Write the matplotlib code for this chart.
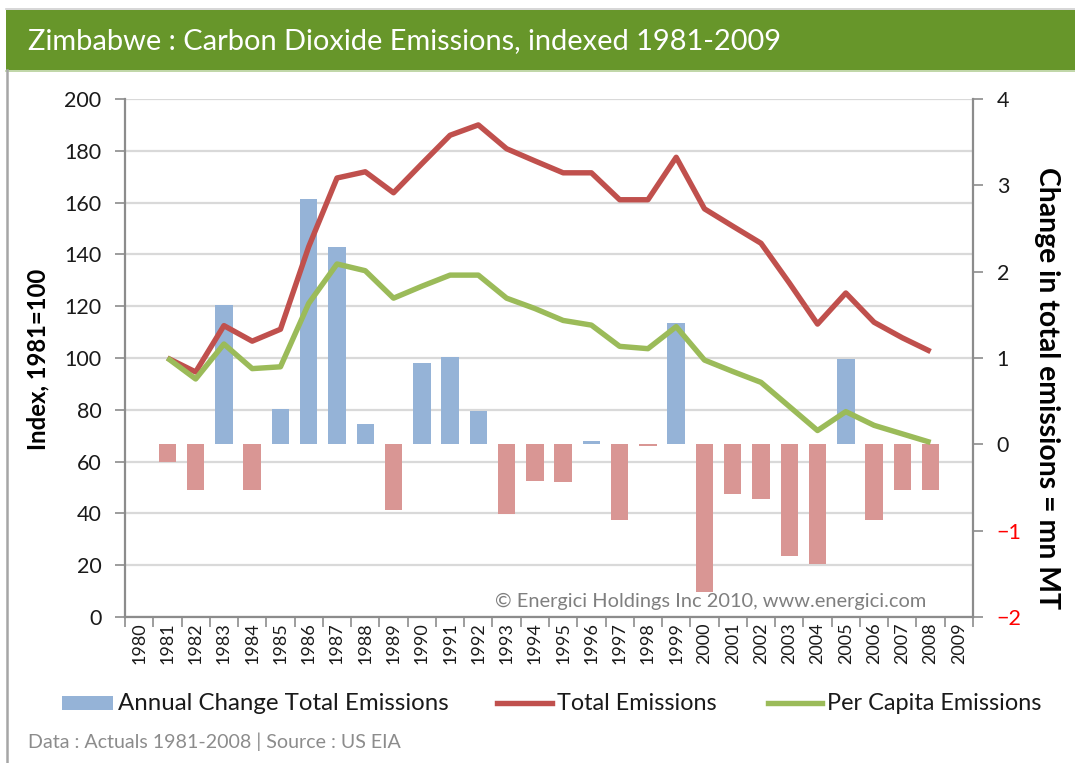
import numpy as np
import matplotlib
matplotlib.use("Agg")
import matplotlib.pyplot as plt
from matplotlib.patches import Rectangle
from matplotlib.lines import Line2D

plt.rcParams['font.family'] = ['Lato', 'DejaVu Sans']

# ---------------- data ----------------
years = [str(y) for y in range(1980, 2010)]
total_emissions = [np.nan, 100, 94.6, 112.5, 106.5, 111.1, 143, 169.5, 171.9, 163.8,
                   175, 186, 190, 180.8, 176.1, 171.5, 171.5, 161.1, 161.1, 177.5,
                   157.6, 150.9, 144.3, 129, 113.1, 125.1, 113.8, 107.8, 102.5, np.nan]
per_capita = [np.nan, 100, 91.9, 105.4, 95.9, 96.6, 121.1, 136.3, 133.7, 123.1,
              127.7, 132, 132, 123.1, 119.1, 114.5, 112.7, 104.5, 103.6, 112.1,
              99.2, 94.8, 90.6, 81.3, 72, 79.3, 74, 70.7, 67.4, np.nan]
annual_change = [np.nan, -0.20, -0.53, 1.61, -0.53, 0.41, 2.84, 2.29, 0.23, -0.76,
                 0.94, 1.01, 0.39, -0.81, -0.42, -0.44, 0.04, -0.88, -0.02, 1.40,
                 -1.71, -0.58, -0.63, -1.29, -1.39, 0.99, -0.88, -0.53, -0.53, np.nan]
left_ticks = list(range(0, 201, 20))
right_ticks = [-2, -1, 0, 1, 2, 3, 4]

title = "Zimbabwe : Carbon Dioxide Emissions, indexed 1981-2009"
left_label = "Index, 1981=100"
right_label = "Change in total emissions = mn MT"
legend_labels = ["Annual Change Total Emissions", "Total Emissions", "Per Capita Emissions"]
footer = "Data : Actuals 1981-2008 | Source : US EIA"
watermark = "\u00a9 Energici Holdings Inc 2010, www.energici.com"

# ---------------- style ----------------
W, H = 1075, 763
BLUE = '#95B3D7'
PINK = '#D99694'
RED = '#C0504D'
GREEN = '#9BBB59'
GRID = '#D9D9D9'
AXC = '#8C8C8C'
TXT = '#1A1A1A'
BANNER = '#67962A'

fig = plt.figure(figsize=(W / 100, H / 100), dpi=100)
fig.patch.set_facecolor('white')

def fx(px):
    return px / W

def fy(py):
    return 1 - py / H

# banner and border
fig.add_artist(Rectangle((fx(6), fy(70)), 1 - fx(6), 60 / H, transform=fig.transFigure,
                         facecolor=BANNER, edgecolor='none', zorder=0))
fig.add_artist(Line2D([fx(6), 1], [fy(9), fy(9)], transform=fig.transFigure, color='#D0D0D0', lw=1.2))
fig.add_artist(Line2D([fx(6), 1], [fy(70.5), fy(70.5)], transform=fig.transFigure, color='#B5CF98', lw=1.2))
fig.add_artist(Line2D([fx(7), fx(7)], [fy(70), 0], transform=fig.transFigure, color='#A6A6A6', lw=1.8))

rect = [fx(125), fy(617), fx(973) - fx(125), (617 - 99) / H]
x = np.arange(len(years))

# base axes: left scale, grid
ax = fig.add_axes(rect)
ax.set_xlim(-0.5, len(years) - 0.5)
ax.set_ylim(0, 200)
ax.set_yticks(left_ticks)
ax.yaxis.grid(True, color=GRID, lw=1.6)
ax.set_axisbelow(True)
ax.set_xticks(np.arange(-0.5, len(years), 1))
ax.set_xticklabels([])
ax.set_xticks(x, minor=True)
ax.set_xticklabels(years, minor=True, rotation=90, fontsize=13, color=TXT)
ax.tick_params(axis='x', which='major', direction='out', length=7, width=1.2, color=AXC)
ax.tick_params(axis='x', which='minor', length=0, pad=4)
ax.tick_params(axis='y', direction='out', length=7, width=1.2, color=AXC, labelsize=15.5,
               labelcolor=TXT, pad=10)
for s in ['top', 'right']:
    ax.spines[s].set_visible(False)
for s in ['left', 'bottom']:
    ax.spines[s].set_color(AXC)
    ax.spines[s].set_linewidth(1.6)

# bars on right scale
axb = ax.twinx()
axb.set_ylim(-2, 4)
axb.set_yticks(right_ticks)
vals = np.array(annual_change, dtype=float)
cols = [BLUE if (not np.isnan(v) and v >= 0) else PINK for v in vals]
axb.bar(x, vals, width=0.62, color=cols, edgecolor='none', zorder=2)
axb.tick_params(axis='y', direction='out', length=7, width=1.2, color=AXC, labelsize=15.5,
                labelcolor=TXT, pad=10)
for lab, v in zip(axb.get_yticklabels(), right_ticks):
    if v < 0:
        lab.set_color('#FF0000')
for s in ['top', 'left', 'bottom']:
    axb.spines[s].set_visible(False)
axb.spines['right'].set_color(AXC)
axb.spines['right'].set_linewidth(1.6)
axb.patch.set_visible(False)

# lines on left scale
axl = ax.twinx()
axl.set_ylim(0, 200)
axl.set_yticks([])
for s in axl.spines.values():
    s.set_visible(False)
axl.patch.set_visible(False)
axl.plot(x, total_emissions, color=RED, lw=3.9, solid_joinstyle='round', solid_capstyle='butt', zorder=3)
axl.plot(x, per_capita, color=GREEN, lw=3.9, solid_joinstyle='round', solid_capstyle='butt', zorder=3)

# texts
t_title = fig.text(fx(28), fy(41), title, color='white', fontsize=18, va='center', ha='left')
t_ll = fig.text(fx(38), fy(359), left_label, rotation=90, fontsize=14, fontweight='bold',
                va='center', ha='center', color='black')
t_rl = fig.text(fx(1047), fy(388), right_label, rotation=270, fontsize=14, fontweight='bold',
                va='center', ha='center', color='black')
t_wm = fig.text(fx(495), fy(601), watermark, fontsize=12, color='#7F7F7F',
                va='center', ha='left', zorder=5)
t_ft = fig.text(fx(28), fy(742), footer, fontsize=11, color='#8C8C8C', va='center', ha='left')

# legend (manual)
ly = fy(703)
fig.add_artist(Rectangle((fx(62), fy(710)), fx(113) - fx(62), 14 / H, transform=fig.transFigure,
                         facecolor=BLUE, edgecolor='none'))
fig.add_artist(Line2D([fx(497), fx(552)], [ly, ly], transform=fig.transFigure, color=RED, lw=3.9))
fig.add_artist(Line2D([fx(768), fx(822)], [ly, ly], transform=fig.transFigure, color=GREEN, lw=3.9))
t_l1 = fig.text(fx(118), ly, legend_labels[0], fontsize=14, color=TXT, va='center', ha='left')
t_l2 = fig.text(fx(557), ly, legend_labels[1], fontsize=14, color=TXT, va='center', ha='left')
t_l3 = fig.text(fx(827), ly, legend_labels[2], fontsize=14, color=TXT, va='center', ha='left')

# fit text widths to the reference
fig.canvas.draw()
r = fig.canvas.get_renderer()
def fit(t, target, vertical=False):
    bb = t.get_window_extent(r)
    cur = bb.height if vertical else bb.width
    t.set_fontsize(t.get_fontsize() * target / cur)

fit(t_title, 752)
fit(t_ll, 182, vertical=True)
fit(t_rl, 445, vertical=True)
fit(t_wm, 428)
fit(t_ft, 372)
fit(t_l1, 330)
fit(t_l2, 160)
fit(t_l3, 215)

fig.savefig('out.png', dpi=100, facecolor='white')
